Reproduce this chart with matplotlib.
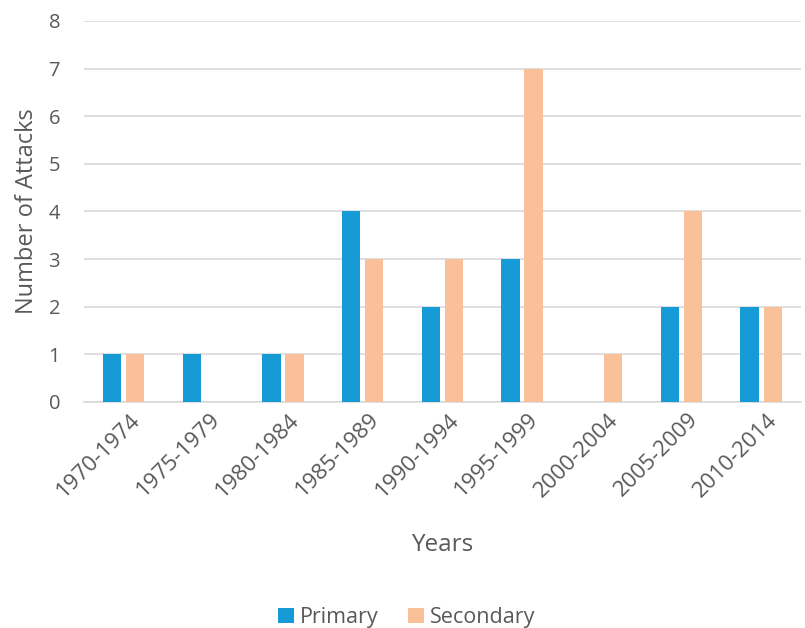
import numpy as np
import matplotlib.pyplot as plt
import matplotlib.transforms as mtransforms

plt.rcParams['font.family'] = ['Open Sans', 'DejaVu Sans']

years = ['1970-1974', '1975-1979', '1980-1984', '1985-1989', '1990-1994',
         '1995-1999', '2000-2004', '2005-2009', '2010-2014']
primary = [1, 1, 1, 4, 2, 3, 0, 2, 2]
secondary = [1, 0, 1, 3, 3, 7, 1, 4, 2]

grey = '#595959'
fig = plt.figure(figsize=(8.05, 6.28), dpi=100)
ax = fig.add_axes([0.104, 0.36, 0.891, 0.6066])

x = np.arange(len(years))
w = 0.23
ax.bar(x - w/2 - 0.03, primary, w, color='#179BD7', label='Primary', zorder=3)
ax.bar(x + w/2 + 0.03, secondary, w, color='#FAC09A', label='Secondary', zorder=3)

ax.set_xlim(-0.5, len(years) - 0.5)
ax.set_ylim(0, 8)
ax.set_yticks(range(9))
ax.yaxis.grid(True, color='#D9D9D9', linewidth=1.2, zorder=0)
for s in ['top', 'right', 'left']:
    ax.spines[s].set_visible(False)
ax.spines['bottom'].set_color('#D9D9D9')
ax.spines['bottom'].set_linewidth(1.2)
ax.tick_params(length=0, colors=grey)
ax.tick_params(axis='y', labelsize=14.5, pad=17)
ax.set_xticks(x)
ax.set_xticklabels(years, rotation=45, ha='right', rotation_mode='anchor')
ax.tick_params(axis='x', labelsize=16, pad=8)
off = mtransforms.ScaledTranslation(6/100, 4/100, fig.dpi_scale_trans)
for lab in ax.get_xticklabels():
    lab.set_transform(lab.get_transform() + off)

ax.set_ylabel('Number of Attacks', fontsize=17, color=grey)
ax.yaxis.set_label_coords(-0.063, 0.5)
ax.set_xlabel('Years', fontsize=17.5, color=grey)
ax.xaxis.set_label_coords(0.5, -0.343)

fig.legend(loc='lower center', bbox_to_anchor=(0.505, -0.031), ncol=2, frameon=False,
           fontsize=15.5, labelcolor=grey, handlelength=0.75, handleheight=0.75,
           handletextpad=0.25, columnspacing=1.4)

fig.savefig('out.png', dpi=100)
